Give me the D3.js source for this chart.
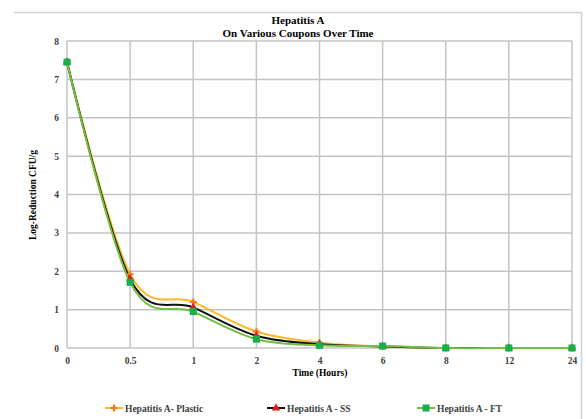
<!DOCTYPE html>
<html>
<head>
<meta charset="utf-8">
<script src="https://cdn.jsdelivr.net/npm/d3@7"></script>
<style>
  body { margin: 0; background: #fff; }
  text { font-family: "Liberation Serif", "Times New Roman", serif; }
</style>
</head>
<body>
<div id="chart"></div>
<script>
var hours = ["0", "0.5", "1", "2", "4", "6", "8", "12", "24"];
var plastic = [7.45, 1.92, 1.2, 0.43, 0.14, 0.04, 0, 0, 0];
var ss = [7.45, 1.8, 1.06, 0.32, 0.1, 0.04, 0, 0, 0];
var ft = [7.45, 1.71, 0.95, 0.23, 0.07, 0.05, 0, 0, 0];
var yTicks = [0, 1, 2, 3, 4, 5, 6, 7, 8];
var seriesNames = ["Hepatitis A- Plastic", "Hepatitis A - SS", "Hepatitis A - FT"];

var W = 586, H = 419;
var margin = {top: 41, right: 14, bottom: 71, left: 67},
    width = W - margin.left - margin.right,
    height = H - margin.top - margin.bottom;

var svg = d3.select("#chart")
    .append("svg")
    .attr("width", W)
    .attr("height", H);

// outer frame (only top and right visible in original)
svg.append("path")
    .attr("d", "M14,12.5H581.5V419")
    .attr("fill", "none")
    .attr("stroke", "#d0d0d0")
    .attr("stroke-width", 1.5);

var g = svg.append("g")
    .attr("transform", "translate(" + margin.left + "," + margin.top + ")");

var x = d3.scalePoint()
    .domain(hours)
    .range([0, width]);

var y = d3.scaleLinear()
    .domain([0, 8])
    .range([height, 0]);

// gridlines
g.selectAll(".hgrid")
    .data(yTicks)
    .enter().append("line")
    .attr("x1", 0).attr("x2", width)
    .attr("y1", d => y(d)).attr("y2", d => y(d))
    .attr("stroke", "#c4c4c4")
    .attr("stroke-width", 1.5);

g.selectAll(".vgrid")
    .data(hours)
    .enter().append("line")
    .attr("x1", d => x(d)).attr("x2", d => x(d))
    .attr("y1", 0).attr("y2", height)
    .attr("stroke", "#c4c4c4")
    .attr("stroke-width", 1.5);

// axes (labels only)
var xAxis = g.append("g")
    .attr("transform", "translate(0," + height + ")")
    .call(d3.axisBottom(x).tickSize(0).tickPadding(9));
var yAxis = g.append("g")
    .call(d3.axisLeft(y).tickValues(yTicks).tickSize(0).tickPadding(8));
[xAxis, yAxis].forEach(function(a) {
    a.select(".domain").remove();
    a.selectAll("text")
        .attr("font-family", "Liberation Serif")
        .attr("font-size", 9.5)
        .attr("font-weight", "bold")
        .attr("fill", "#404040");
});

// titles
svg.append("text")
    .attr("x", 298).attr("y", 24)
    .attr("text-anchor", "middle")
    .attr("font-size", 11).attr("font-weight", "bold")
    .text("Hepatitis A");
svg.append("text")
    .attr("x", 298).attr("y", 37)
    .attr("text-anchor", "middle")
    .attr("font-size", 11).attr("font-weight", "bold")
    .text("On Various Coupons Over Time");

svg.append("text")
    .attr("x", 320).attr("y", 376)
    .attr("text-anchor", "middle")
    .attr("font-size", 9.5).attr("font-weight", "bold")
    .text("Time (Hours)");

svg.append("text")
    .attr("transform", "translate(36,195) rotate(-90)")
    .attr("text-anchor", "middle")
    .attr("font-size", 9.5).attr("font-weight", "bold")
    .text("Log-Reduction CFU/g");

// series
var series = [
    {name: seriesNames[0], values: plastic, line: "#fdb827", marker: "#f47d20", shape: "plus"},
    {name: seriesNames[1], values: ss, line: "#111111", marker: "#e0201b", shape: "triangle"},
    {name: seriesNames[2], values: ft, line: "#72bf44", marker: "#13b04b", shape: "square"}
];

var line = d3.line()
    .x((d, i) => x(hours[i]))
    .y(d => y(d))
    .curve(d3.curveCardinal.tension(0));

function drawMarker(sel, s) {
    if (s.shape === "square") {
        sel.append("rect")
            .attr("x", -3.5).attr("y", -3.5)
            .attr("width", 7).attr("height", 7)
            .attr("fill", s.marker);
    } else if (s.shape === "triangle") {
        sel.append("path")
            .attr("d", d3.symbol().type(d3.symbolTriangle).size(30)())
            .attr("fill", s.marker);
    } else {
        sel.append("path")
            .attr("d", "M-3.5,0H3.5M0,-3.5V3.5")
            .attr("stroke", s.marker)
            .attr("stroke-width", 2);
        sel.append("circle").attr("r", 2).attr("fill", s.marker);
    }
}

series.forEach(function(s) {
    g.append("path")
        .datum(s.values)
        .attr("d", line)
        .attr("fill", "none")
        .attr("stroke", s.line)
        .attr("stroke-width", 2);
});
series.forEach(function(s) {
    g.selectAll(null)
        .data(s.values)
        .enter().append("g")
        .attr("transform", (d, i) => "translate(" + x(hours[i]) + "," + y(d) + ")")
        .each(function() { drawMarker(d3.select(this), s); });
});

// legend
var legendX = [105, 267, 417];
var legend = svg.selectAll(".legend")
    .data(series)
    .enter().append("g")
    .attr("transform", (d, i) => "translate(" + legendX[i] + ",408)");
legend.append("line")
    .attr("x1", 0).attr("x2", 18)
    .attr("stroke", d => d.line)
    .attr("stroke-width", 2);
legend.each(function(d) {
    var m = d3.select(this).append("g").attr("transform", "translate(9,0)");
    drawMarker(m, d);
});
legend.append("text")
    .attr("x", 20).attr("y", 3.5)
    .attr("font-size", 9.5).attr("font-weight", "bold")
    .attr("fill", "#404040")
    .text(d => d.name);
</script>
</body>
</html>
